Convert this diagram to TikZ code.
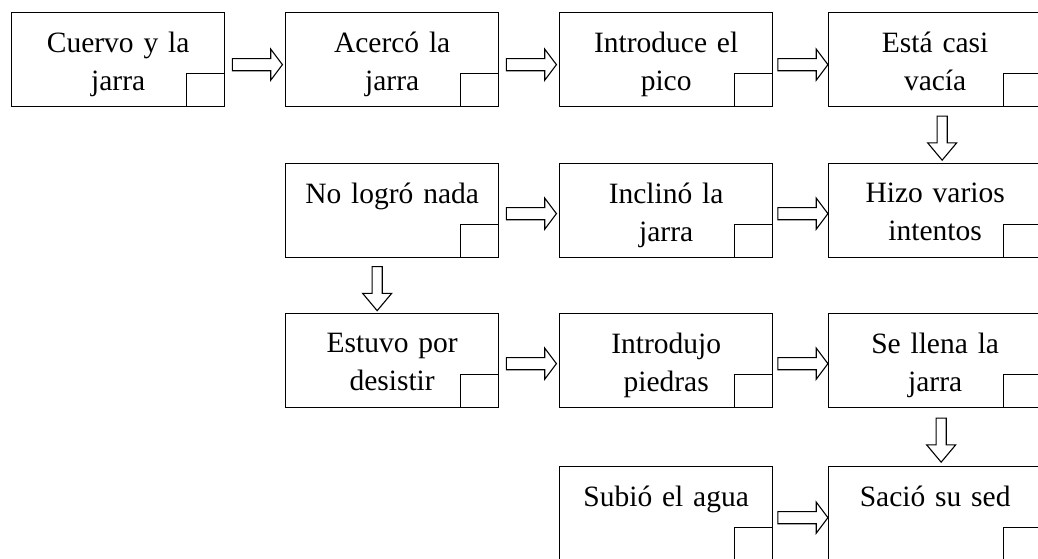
\documentclass[tikz,border=0pt]{standalone}
\usepackage{fontspec}
\setmainfont{Liberation Serif}
\usetikzlibrary{shapes.arrows,calc}

\tikzset{
	caja/.style={draw,line width=1.3pt,minimum width=213pt,minimum height=94pt,inner sep=0pt,anchor=north west},
	texto/.style={anchor=north,text width=205pt,align=center,inner sep=0pt,yshift=-20pt,font=\fontsize{29.5}{38}\selectfont},
	cuadro/.style={draw,line width=1.3pt,minimum width=38pt,minimum height=33pt,inner sep=0pt,anchor=south east},
	flecha/.style={draw,single arrow,line width=1.1pt,inner sep=5.5pt,single arrow head extend=9.5pt,single arrow tip angle=106,minimum height=50pt,minimum width=0pt},
	flechabajo/.style={flecha,rotate=-90,inner sep=4.5pt,single arrow tip angle=80,minimum height=44pt}
}

\begin{document}
\begin{tikzpicture}[x=1pt,y=-1pt]
	\useasboundingbox (0,0) rectangle (1038,558);
	\clip (0,0) rectangle (1038,558);

	% boxes
	\node[caja] (c1) at (11,12) {};
	\node[caja] (c2) at (285,12) {};
	\node[caja] (c3) at (559,12) {};
	\node[caja] (c4) at (828,12) {};
	\node[caja] (c5) at (285,163) {};
	\node[caja] (c6) at (559,163) {};
	\node[caja] (c7) at (828,163) {};
	\node[caja] (c8) at (285,313) {};
	\node[caja] (c9) at (559,313) {};
	\node[caja] (c10) at (828,313) {};
	\node[caja] (c11) at (559,466) {};
	\node[caja] (c12) at (828,466) {};

	% small squares
	\node[cuadro] (s1) at (c1.south east) {};
	\node[cuadro] (s2) at (c2.south east) {};
	\node[cuadro] (s3) at (c3.south east) {};
	\node[cuadro] (s4) at (c4.south east) {};
	\node[cuadro] (s5) at (c5.south east) {};
	\node[cuadro] (s6) at (c6.south east) {};
	\node[cuadro] (s7) at (c7.south east) {};
	\node[cuadro] (s8) at (c8.south east) {};
	\node[cuadro] (s9) at (c9.south east) {};
	\node[cuadro] (s10) at (c10.south east) {};
	\node[cuadro] (s11) at (c11.south east) {};
	\node[cuadro] (s12) at (c12.south east) {};

	% texts
	\node[texto] (t1) at (c1.north) {Cuervo y la\\jarra};
	\node[texto] (t2) at (c2.north) {Acercó la\\jarra};
	\node[texto] (t3) at (c3.north) {Introduce el\\pico};
	\node[texto] (t4) at (c4.north) {Está casi\\vacía};
	\node[texto] (t5) at (c5.north) {No logró nada};
	\node[texto] (t6) at (c6.north) {Inclinó la\\jarra};
	\node[texto] (t7) at (c7.north) {Hizo varios\\intentos};
	\node[texto] (t8) at (c8.north) {Estuvo por\\desistir};
	\node[texto] (t9) at (c9.north) {Introdujo\\piedras};
	\node[texto] (t10) at (c10.north) {Se llena la\\jarra};
	\node[texto] (t11) at (c11.north) {Subió el agua};
	\node[texto] (t12) at (c12.north) {Sació su sed};

	% arrows
	\node[flecha] (f1) at ($(c1.east)!0.5!(c2.west)+(0,5)$) {};
	\node[flecha] (f2) at ($(c2.east)!0.5!(c3.west)+(0,5)$) {};
	\node[flecha] (f3) at ($(c3.east)!0.5!(c4.west)+(0,5)$) {};
	\node[flechabajo] (f4) at ($(c4.south)!0.5!(c7.north)+(7,0)$) {};
	\node[flecha] (f5) at ($(c5.east)!0.5!(c6.west)+(0,3)$) {};
	\node[flecha] (f6) at ($(c6.east)!0.5!(c7.west)+(0,3)$) {};
	\node[flechabajo] (f7) at ($(c5.south)!0.5!(c8.north)+(-15,0)$) {};
	\node[flecha] (f8) at ($(c8.east)!0.5!(c9.west)+(0,3)$) {};
	\node[flecha] (f9) at ($(c9.east)!0.5!(c10.west)+(0,3)$) {};
	\node[flechabajo] (f10) at ($(c10.south)!0.5!(c12.north)+(6,0)$) {};
	\node[flecha] (f11) at ($(c11.east)!0.5!(c12.west)+(0,4)$) {};

\end{tikzpicture}
\end{document}
